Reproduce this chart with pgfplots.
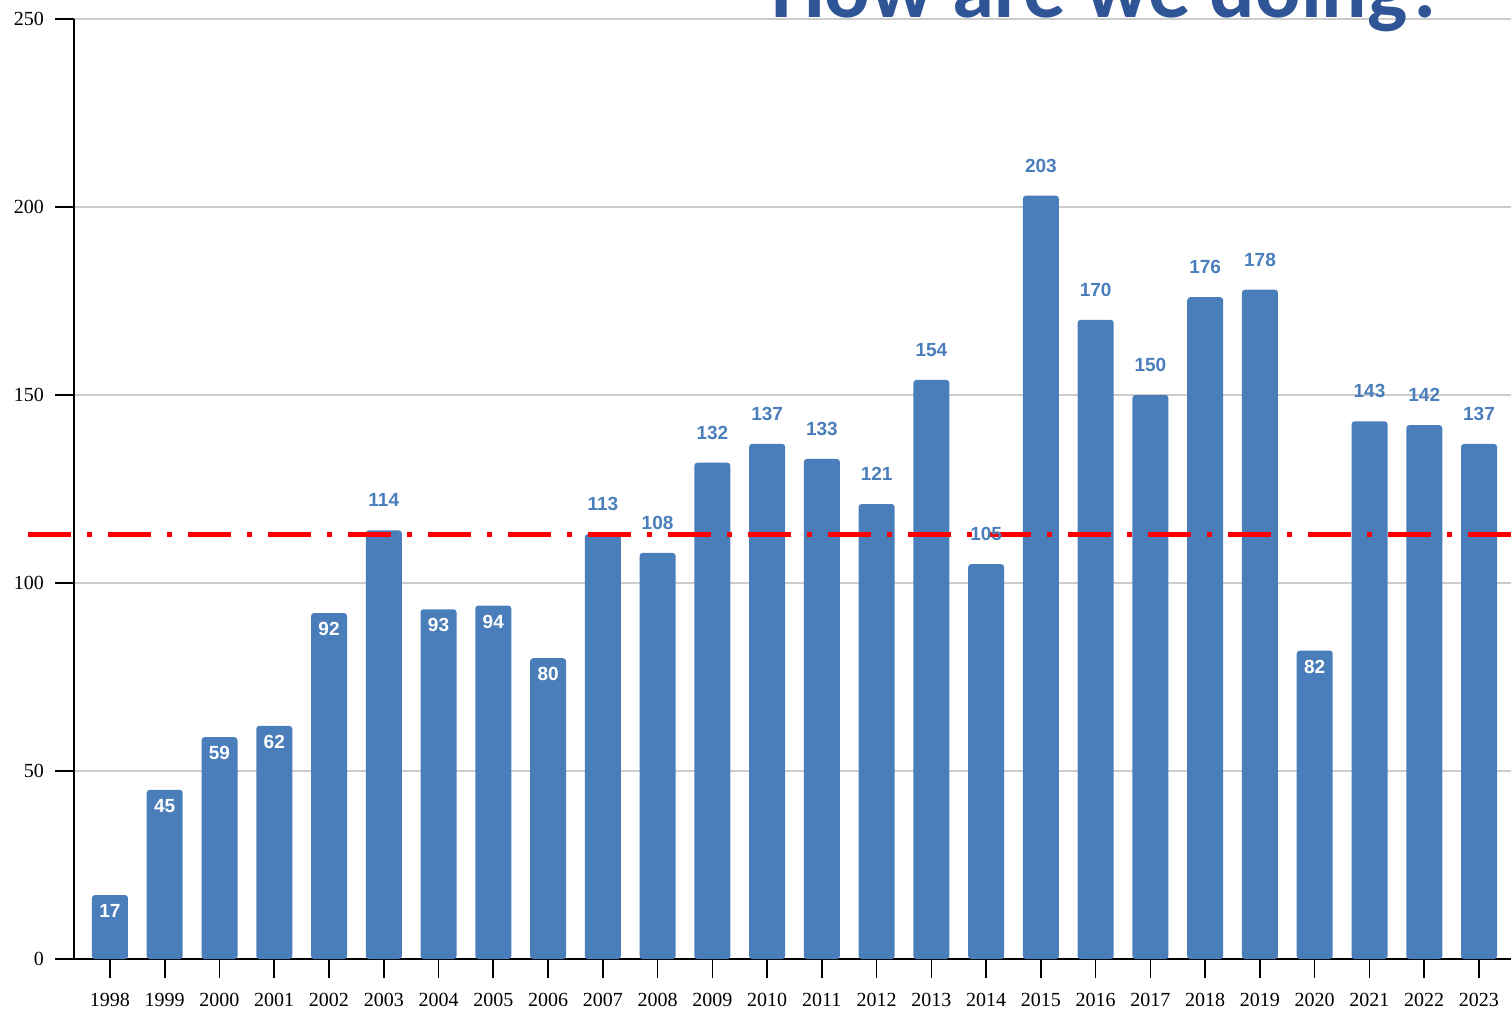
\documentclass[border=0pt]{standalone}
\usepackage{fontspec}
\setmainfont{Liberation Serif}
\newfontfamily\labfont{Liberation Sans}
\newfontfamily\titlefont{Carlito}
\usepackage{pgfplots}
\pgfplotsset{compat=1.18}
\definecolor{barblue}{RGB}{74,126,187}
\definecolor{titleblue}{RGB}{47,85,151}
\definecolor{gridgray}{RGB}{204,204,204}
\begin{document}
\begin{tikzpicture}
\useasboundingbox (-37pt,-24.5pt) rectangle (718.5pt,479.5pt);
\begin{axis}[
  at={(0pt,0pt)}, anchor=south west,
  width=718.5pt, height=470pt, scale only axis,
  xmin=1997.343, xmax=2023.584, ymin=0, ymax=250,
  ytick={0,50,...,250}, xtick={1998,...,2023},
  axis x line=bottom, axis y line=left,
  axis line style={-, black, line width=0.8pt},
  tick align=outside, major tick length=9.5pt,
  tick style={black, line width=0.8pt},
  ymajorgrids, grid style={gridgray, line width=0.6pt},
  ybar, bar width=18pt, bar shift=0pt,
  clip=false,
  tick label style={font=\fontsize{10}{12}\selectfont},
  /pgf/number format/assume math mode=true,
  x tick label style={/pgf/number format/1000 sep={}, yshift=-4pt},
  y tick label style={xshift=-2pt},
]
\addplot[fill=barblue, draw=none, rounded corners=1.5pt,
  nodes near coords,
  every node near coord/.append style={white, anchor=center, yshift=-8pt, font=\labfont\bfseries\fontsize{9.5}{11}\selectfont}]
  coordinates {(1998,17)(1999,45)(2000,59)(2001,62)(2002,92)(2004,93)(2005,94)(2006,80)(2020,82)};
\addplot[fill=barblue, draw=none, rounded corners=1.5pt,
  nodes near coords,
  every node near coord/.append style={text=barblue, anchor=center, yshift=15pt, font=\labfont\bfseries\fontsize{9.5}{11}\selectfont}]
  coordinates {(2003,114)(2007,113)(2008,108)(2009,132)(2010,137)(2011,133)(2012,121)(2013,154)(2014,105)(2015,203)(2016,170)(2017,150)(2018,176)(2019,178)(2021,143)(2022,142)(2023,137)};
\addplot[sharp plot, red, line width=2.5pt, dash pattern=on 21.5pt off 8pt on 2.5pt off 8pt, forget plot]
  coordinates {(1996.5,113)(2024,113)};
\end{axis}
\node[anchor=base west, inner sep=0pt, text=titleblue, font=\titlefont\bfseries\fontsize{42.4}{50}\selectfont] at (348.5pt,470.5pt) {How are we doing?};
\end{tikzpicture}
\end{document}
